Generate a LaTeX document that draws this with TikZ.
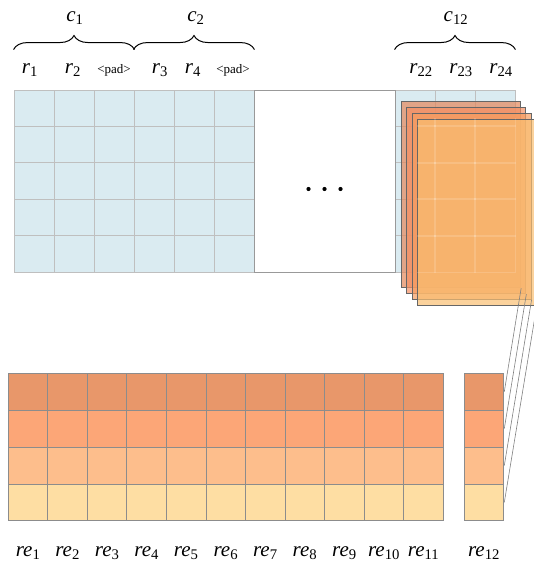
\documentclass[tikz,border=0pt]{standalone}
\usepackage{fontspec}
\setmainfont{Liberation Serif}
\usetikzlibrary{decorations.pathreplacing}

\definecolor{cellblue}{HTML}{DAEBF1}
\definecolor{embA}{HTML}{E8976A}
\definecolor{embB}{HTML}{FCA677}
\definecolor{embC}{HTML}{FDBE8C}
\definecolor{embD}{HTML}{FEDEA3}
\definecolor{sheetA}{HTML}{E4875A}
\definecolor{sheetB}{HTML}{F69063}
\definecolor{sheetC}{HTML}{F79D60}
\definecolor{sheetD}{HTML}{F9BF72}
\newcommand{\sublbl}[2]{\textit{#1}\textsubscript{#2}}

\begin{document}
\begin{tikzpicture}[
			x=1pt, y=-1pt,
			blue cell/.style={draw=black!25, fill=cellblue, line width=0.9pt, minimum width=40pt, minimum height=36.4pt, inner sep=0pt},
			emb cell/.style={draw=black!45, line width=1pt, minimum width=39.55pt, minimum height=36.9pt, inner sep=0pt},
			sheet/.style={draw=black!60, line width=0.9pt, fill opacity=0.7, minimum width=119pt, minimum height=186pt, inner sep=0pt},
			faint/.style={draw=white, line width=0.9pt, opacity=0.15},
			link/.style={draw=black!50, line width=0.6pt},
			lbl/.style={font=\fontsize{21}{24}\selectfont, inner sep=0pt},
			pad/.style={font=\fontsize{13}{15}\selectfont, inner sep=0pt},
			brace/.style={decorate, decoration={brace, amplitude=14pt}, line width=1pt}
			]
			\useasboundingbox (0,0) rectangle (534,564);
			
			% Input cells
			\foreach \r in {1,...,5} {
				\foreach \c in {1,...,6}
					\node[blue cell] (b\c-\r) at ({14+40*(\c-0.5)}, {90+36.4*(\r-0.5)}) {};
				\foreach \c in {22,23,24}
					\node[blue cell] (b\c-\r) at ({395+40*(\c-21.5)}, {90+36.4*(\r-0.5)}) {};
			}
			\node[draw=black!40, line width=0.9pt, minimum width=141pt, minimum height=182pt, inner sep=0pt] (gap) at (324.5,181) {};
			\foreach \x in {-16,0,16}
				\fill ([xshift=\x pt, yshift=-8pt]gap.center) circle (2.1pt);
			
			% Braces and labels
			\draw[brace] ([yshift=40pt]b1-1.north west) -- ([yshift=40pt]b3-1.north east);
			\draw[brace] ([yshift=40pt]b4-1.north west) -- ([yshift=40pt]b6-1.north east);
			\draw[brace] ([yshift=40pt]b22-1.north west) -- ([yshift=40pt]b24-1.north east);
			\node[lbl] (c1) at (75,18) {\sublbl{c}{1}};
			\node[lbl] (c2) at (196,18) {\sublbl{c}{2}};
			\node[lbl] (c12) at (456,18) {\sublbl{c}{12}};
			\node[lbl] (r1) at (30,70) {\sublbl{r}{1}};
			\node[lbl] (r2) at (73,70) {\sublbl{r}{2}};
			\node[pad] (p1) at (114,70) {<pad>};
			\node[lbl] (r3) at (160,70) {\sublbl{r}{3}};
			\node[lbl] (r4) at (193,70) {\sublbl{r}{4}};
			\node[pad] (p2) at (233,70) {<pad>};
			\node[lbl] (r22) at (421,70) {\sublbl{r}{22}};
			\node[lbl] (r23) at (461,70) {\sublbl{r}{23}};
			\node[lbl] (r24) at (501,70) {\sublbl{r}{24}};
			
			% Embedding cells
			\foreach \r/\col in {1/embA,2/embB,3/embC,4/embD} {
				\foreach \c in {1,...,11}
					\node[emb cell, fill=\col] (e\c-\r) at ({8.3+39.55*(\c-0.5)}, {373.3+36.9*(\r-0.5)}) {};
				\node[emb cell, fill=\col] (e12-\r) at (484, {373.3+36.9*(\r-0.5)}) {};
			}
			\foreach \c in {1,...,11}
				\node[lbl] (re\c) at ([yshift=-32pt]e\c-4.south) {\sublbl{re}{\c}};
			\node[lbl] (re12) at ([yshift=-32pt]e12-4.south) {\sublbl{re}{12}};
			
			% Embedding sheets and links
			\foreach \k/\col in {1/sheetA,2/sheetB,3/sheetC,4/sheetD}
				\node[sheet, fill=\col] (s\k) at ({461.2+5.2*(\k-1)}, {194.7+5.9*(\k-1)}) {};
			\begin{scope}
				\clip (s4.north west) rectangle (s4.south east);
				\foreach \c in {22,23,24}
					\foreach \r in {1,...,5}
						\draw[faint] (b\c-\r.north west) rectangle (b\c-\r.south east);
			\end{scope}
			\foreach \k in {1,...,4}
				\draw[link] (s\k.south east) -- (e12-\k.east);
		\end{tikzpicture}
\end{document}
